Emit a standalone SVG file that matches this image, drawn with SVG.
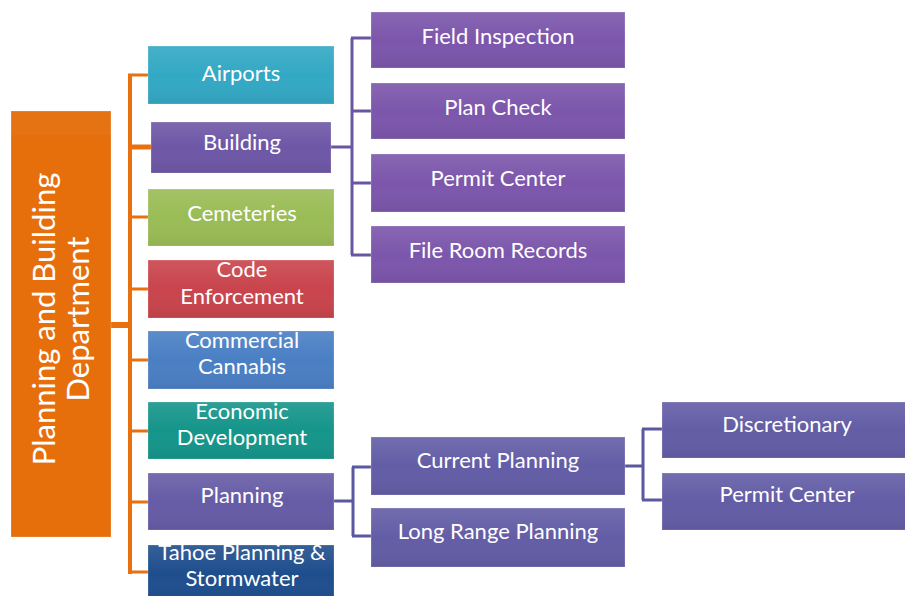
<svg xmlns="http://www.w3.org/2000/svg" width="905" height="596" viewBox="0 0 905 596">
  <defs>
    <linearGradient id="sheen" x1="0" y1="0" x2="0" y2="1">
      <stop offset="0" stop-color="#ffffff" stop-opacity="0.10"/>
      <stop offset="0.5" stop-color="#ffffff" stop-opacity="0"/>
      <stop offset="1" stop-color="#000000" stop-opacity="0.06"/>
    </linearGradient>
  </defs>
  <style>
    text { font-family: Lato, "Liberation Sans", sans-serif; fill: #ffffff; text-anchor: middle; }
    .lbl { font-size: 22px; }
    .root { font-size: 31px; }
    .box { stroke: #ffffff; stroke-opacity: 0.22; stroke-width: 1; }
    .gloss { fill: url(#sheen); }
    .orange { stroke: #E8700F; fill: none; }
    .purple { stroke: #6A55A3; fill: none; stroke-width: 3; }
    .slate { stroke: #5A58A0; fill: none; stroke-width: 3; }
  </style>
  <rect width="905" height="596" fill="#ffffff"/>

  <!-- connectors -->
  <g id="connectors">
    <!-- root to departments -->
    <line class="orange" x1="111" y1="325" x2="131" y2="325" stroke-width="6"/>
    <line class="orange" x1="130" y1="75" x2="130" y2="574" stroke-width="4"/>
    <line class="orange" x1="128" y1="75" x2="148" y2="75" stroke-width="3"/>
    <line class="orange" x1="128" y1="147" x2="151" y2="147" stroke-width="5"/>
    <line class="orange" x1="128" y1="217" x2="148" y2="217" stroke-width="3"/>
    <line class="orange" x1="128" y1="289" x2="148" y2="289" stroke-width="3"/>
    <line class="orange" x1="128" y1="360" x2="148" y2="360" stroke-width="3"/>
    <line class="orange" x1="128" y1="431" x2="148" y2="431" stroke-width="3"/>
    <line class="orange" x1="128" y1="502" x2="148" y2="502" stroke-width="3"/>
    <line class="orange" x1="128" y1="572" x2="148" y2="572" stroke-width="3"/>
    <!-- Building to its sections -->
    <path class="purple" d="M331 147 H352 M352 38 V255 M351 38 H371 M351 111 H371 M351 183 H371 M351 255 H371"/>
    <!-- Planning to its sections -->
    <path class="slate" d="M334 501 H353 M353 467 V536 M352 467 H371 M352 536 H371"/>
    <!-- Current Planning to its sections -->
    <path class="slate" d="M625 466 H643 M643 429 V500 M642 429 H662 M642 500 H662"/>
  </g>

  <!-- root -->
  <g id="node-root">
    <rect class="box" x="11" y="111" width="100" height="426" fill="#E66F0C"/>
    <rect x="11" y="111" width="100" height="24" fill="#ffffff" opacity="0.03"/>
    <text class="root" transform="translate(55,319) rotate(-90)">Planning and Building</text>
    <text class="root" transform="translate(89,319) rotate(-90)">Department</text>
  </g>

  <!-- departments -->
  <g id="node-airports">
    <rect class="box" x="148" y="46" width="186" height="58" fill="#33A8C4"/>
    <rect class="gloss" x="148" y="46" width="186" height="58"/>
    <text class="lbl" x="241" y="81">Airports</text>
  </g>
  <g id="node-building">
    <rect class="box" x="151" y="122" width="180" height="51" fill="#6E57A6"/>
    <rect class="gloss" x="151" y="122" width="180" height="51"/>
    <text class="lbl" x="242" y="150">Building</text>
  </g>
  <g id="node-cemeteries">
    <rect class="box" x="148" y="189" width="186" height="57" fill="#9ABC56"/>
    <rect class="gloss" x="148" y="189" width="186" height="57"/>
    <text class="lbl" x="242" y="221">Cemeteries</text>
  </g>
  <g id="node-code-enforcement">
    <rect class="box" x="148" y="260" width="186" height="58" fill="#C9444C"/>
    <rect class="gloss" x="148" y="260" width="186" height="58"/>
    <text class="lbl" x="242" y="277">Code</text>
    <text class="lbl" x="242" y="304">Enforcement</text>
  </g>
  <g id="node-commercial-cannabis">
    <rect class="box" x="148" y="331" width="186" height="58" fill="#4A7FC4"/>
    <rect class="gloss" x="148" y="331" width="186" height="58"/>
    <text class="lbl" x="242" y="348">Commercial</text>
    <text class="lbl" x="242" y="374">Cannabis</text>
  </g>
  <g id="node-economic-development">
    <rect class="box" x="148" y="402" width="186" height="57" fill="#15958A"/>
    <rect class="gloss" x="148" y="402" width="186" height="57"/>
    <text class="lbl" x="242" y="419">Economic</text>
    <text class="lbl" x="242" y="445">Development</text>
  </g>
  <g id="node-planning">
    <rect class="box" x="148" y="473" width="186" height="57" fill="#665CA6"/>
    <rect class="gloss" x="148" y="473" width="186" height="57"/>
    <text class="lbl" x="242" y="503">Planning</text>
  </g>
  <g id="node-tahoe">
    <rect class="box" x="148" y="545" width="186" height="58" fill="#1F4E8D"/>
    <rect class="gloss" x="148" y="545" width="186" height="58"/>
    <text class="lbl" x="242" y="560">Tahoe Planning &amp;</text>
    <text class="lbl" x="242" y="586">Stormwater</text>
  </g>

  <!-- Building sections -->
  <g id="node-field-inspection">
    <rect class="box" x="371" y="12" width="254" height="56" fill="#7C56AB"/>
    <rect class="gloss" x="371" y="12" width="254" height="56"/>
    <text class="lbl" x="498" y="44">Field Inspection</text>
  </g>
  <g id="node-plan-check">
    <rect class="box" x="371" y="83" width="254" height="56" fill="#7C56AB"/>
    <rect class="gloss" x="371" y="83" width="254" height="56"/>
    <text class="lbl" x="498" y="115">Plan Check</text>
  </g>
  <g id="node-permit-center-building">
    <rect class="box" x="371" y="154" width="254" height="58" fill="#7C56AB"/>
    <rect class="gloss" x="371" y="154" width="254" height="58"/>
    <text class="lbl" x="498" y="186">Permit Center</text>
  </g>
  <g id="node-file-room-records">
    <rect class="box" x="371" y="226" width="254" height="57" fill="#7C56AB"/>
    <rect class="gloss" x="371" y="226" width="254" height="57"/>
    <text class="lbl" x="498" y="258">File Room Records</text>
  </g>

  <!-- Planning sections -->
  <g id="node-current-planning">
    <rect class="box" x="371" y="437" width="254" height="58" fill="#635DA6"/>
    <rect class="gloss" x="371" y="437" width="254" height="58"/>
    <text class="lbl" x="498" y="468">Current Planning</text>
  </g>
  <g id="node-long-range-planning">
    <rect class="box" x="371" y="508" width="254" height="59" fill="#635DA6"/>
    <rect class="gloss" x="371" y="508" width="254" height="59"/>
    <text class="lbl" x="498" y="539">Long Range Planning</text>
  </g>
  <g id="node-discretionary">
    <rect class="box" x="662" y="402" width="250" height="56" fill="#635DA6"/>
    <rect class="gloss" x="662" y="402" width="250" height="56"/>
    <text class="lbl" x="787" y="432">Discretionary</text>
  </g>
  <g id="node-permit-center-planning">
    <rect class="box" x="662" y="473" width="250" height="57" fill="#635DA6"/>
    <rect class="gloss" x="662" y="473" width="250" height="57"/>
    <text class="lbl" x="787" y="502">Permit Center</text>
  </g>
</svg>
